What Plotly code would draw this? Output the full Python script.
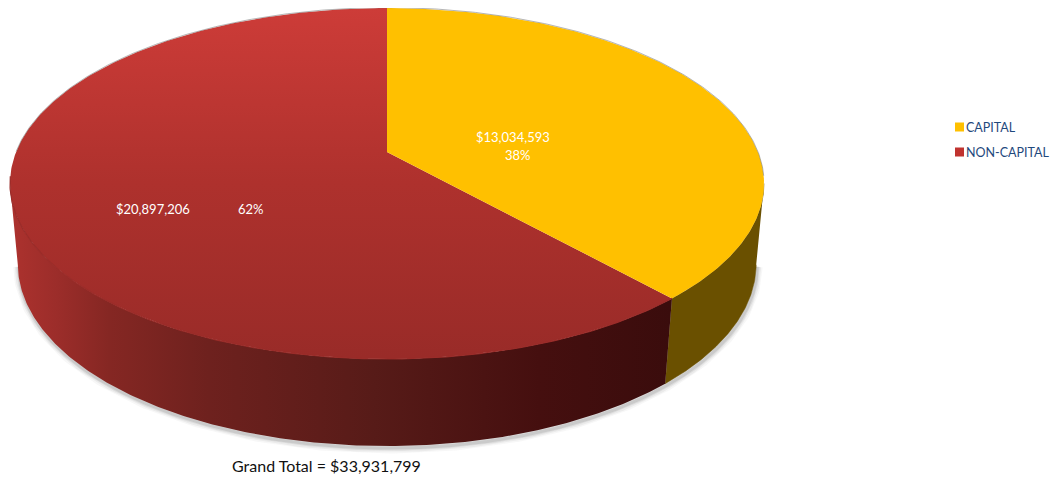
import numpy as np
import plotly.graph_objects as go

categories = ["CAPITAL", "NON-CAPITAL"]
values = [13034593, 20897206]
percent_labels = ["38%", "62%"]
total_label = "Grand Total = $33,931,799"
money_labels = ["$13,034,593", "$20,897,206"]
legend_colors = ["#FFC000", "#C0332F"]

W, H = 1060, 481
PAGE_MARGIN = 8  # default body margin of the page that write_html produces
FONT = "Lato"

# perspective projection of the disc (pixel-space axes)
def rim(theta, cy, ax, ay, k):
    w = 1 + k * np.cos(theta)
    return 387 + ax * np.sin(theta) / w, cy - ay * np.cos(theta) / w

TOP = dict(cy=152, ax=370.9, ay=169.8, k=0.1795)
BOT = dict(cy=232, ax=363.5, ay=176.6, k=0.1750)

split = 2 * np.pi * values[0] / sum(values)
th_cap = np.linspace(0, split, 200)
th_non = np.linspace(split, 2 * np.pi, 300)
# angle of the silhouette: where the rim is widest, so the wall edge is a straight tangent
th_edge = np.arccos(-TOP["k"])

fig = go.Figure()

def poly(x, y, **kw):
    fig.add_trace(go.Scatter(x=x, y=y, mode="lines", fill="toself", showlegend=False,
                             hoverinfo="skip", **kw))

# soft shadow along the lower rim, fading out partway up the wall edges
th_sh = np.linspace(th_edge, 2 * np.pi - th_edge, 300)
sx, sy = rim(th_sh, **BOT)
for width, alpha in [(11, 0.05), (8, 0.07), (5, 0.10), (3, 0.14)]:
    fig.add_trace(go.Scatter(x=sx + 1, y=sy + 2, mode="lines", showlegend=False, hoverinfo="skip",
                             line=dict(color=f"rgba(90,90,90,{alpha})", width=width)))

# walls
th_w = np.linspace(th_edge, split, 120)
tx, ty = rim(th_w, **TOP)
bx, by = rim(th_w, **BOT)
poly(np.r_[tx, bx[::-1]], np.r_[ty, by[::-1]], line=dict(width=0.5, color="#6A5000"), fillcolor="#6A5000")

th_w = np.linspace(split, 2 * np.pi - th_edge, 240)
tx, ty = rim(th_w, **TOP)
bx, by = rim(th_w, **BOT)
poly(np.r_[tx, bx[::-1]], np.r_[ty, by[::-1]], line=dict(width=0),
     fillgradient=dict(type="horizontal",
                       colorscale=[[0, "#AD322E"], [0.07, "#9C2D2A"], [0.15, "#852723"], [0.3, "#6E211E"],
                                   [0.55, "#571B18"], [0.8, "#450F0F"], [1, "#3A0C0C"]]))

# top faces
x1, y1 = rim(th_non, **TOP)
poly(np.r_[387, x1, 387], np.r_[152, y1, 152], line=dict(width=0),
     fillgradient=dict(type="vertical", start=8, stop=359,
                       colorscale=[[0, "#CD3C38"], [0.5, "#AE312D"], [1, "#992B28"]]))
x0, y0 = rim(th_cap, **TOP)
poly(np.r_[387, x0, 387], np.r_[152, y0, 152], line=dict(width=0), fillcolor="#FFC000")

# seam between the red top and its wall
th_s = np.linspace(split, np.radians(262), 200)
cx, cy_ = rim(th_s, **TOP)
fig.add_trace(go.Scatter(x=cx, y=cy_, mode="lines", showlegend=False, hoverinfo="skip",
                         line=dict(color="#9A2C29", width=1.2)))

# rim highlight
th_r = np.linspace(np.radians(-90), np.radians(98), 300)
rx, ry = rim(th_r, **TOP)
fig.add_trace(go.Scatter(x=rx, y=ry - 0.5, mode="lines", showlegend=False, hoverinfo="skip",
                         line=dict(color="rgba(120,120,120,0.55)", width=1)))

# legend, placed tight like the original (marker-to-text gap is below plotly's legend minimum)
fig.add_trace(go.Scatter(x=[959.5, 959.5], y=[127, 152], mode="markers", showlegend=False, hoverinfo="skip",
                         marker=dict(color=legend_colors, symbol="square", size=9)))
for name, y in zip(categories, [127, 152]):
    fig.add_annotation(x=966, y=y, text=name, showarrow=False, xref="x", yref="y", xanchor="left",
                       xshift=-2, font=dict(family=FONT, size=12.5, color="#1F497D"))

notes = [
    (513, 137, money_labels[0]), (518, 155, percent_labels[0]),
    (153, 209, money_labels[1]), (251, 209, percent_labels[1]),
]
for x, y, t in notes:
    fig.add_annotation(x=x, y=y, text=t, showarrow=False, xref="x", yref="y",
                       font=dict(family=FONT, size=13, color="white"))
fig.add_annotation(x=326, y=465.5, text=total_label, showarrow=False, xref="x", yref="y",
                   font=dict(family=FONT, size=16, color="#111111"))

fig.update_layout(
    width=W - PAGE_MARGIN, height=H - PAGE_MARGIN, margin=dict(l=0, r=0, t=0, b=0),
    paper_bgcolor="white", plot_bgcolor="white", font=dict(family=FONT), showlegend=False,
    xaxis=dict(range=[PAGE_MARGIN, W], visible=False, fixedrange=True),
    yaxis=dict(range=[H, PAGE_MARGIN], visible=False, fixedrange=True),
)
fig.write_html("out.html")
